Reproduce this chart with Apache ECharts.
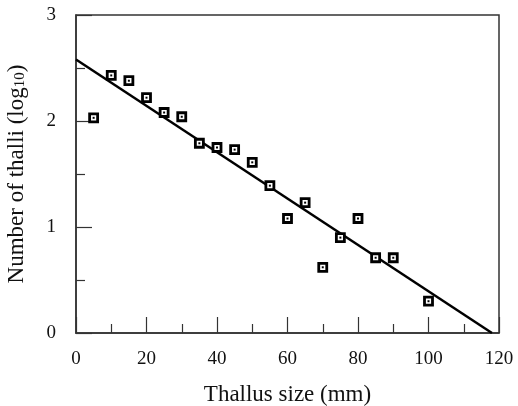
<!DOCTYPE html>
<html>
<head>
<meta charset="utf-8">
<script src="https://cdn.jsdelivr.net/npm/echarts@6/dist/echarts.min.js"></script>
<style>
  html, body { margin: 0; padding: 0; background: #fff; }
  #chart { width: 518px; height: 406px; }
</style>
</head>
<body>
<div id="chart"></div>
<script>
// thallus size (mm) and number of thalli (log10)
var sizes = [5, 10, 15, 20, 25, 30, 35, 40, 45, 50, 55, 60, 65, 70, 75, 80, 85, 90, 100];
var counts = [2.03, 2.43, 2.38, 2.22, 2.08, 2.04, 1.79, 1.75, 1.73, 1.61, 1.39, 1.08, 1.23, 0.62, 0.90, 1.08, 0.71, 0.71, 0.30];
// fitted regression line end points
var fitX = [0, 118];
var fitY = [2.58, 0];

var myChart = echarts.init(document.getElementById("chart"));
var points = sizes.map(function (x, i) { return [x, counts[i]]; });
var fitLine = fitX.map(function (x, i) { return [x, fitY[i]]; });
var font = "'Liberation Serif', 'DejaVu Serif', serif";
var axisColor = "#333";

var option = {
  animation: false,
  grid: {
    left: 76, right: 19, top: 15, bottom: 73,
    outerBoundsMode: "none", containLabel: false,
    show: true, borderColor: axisColor, borderWidth: 1.5, backgroundColor: "transparent"
  },
  xAxis: {
    type: "value", min: 0, max: 120, interval: 20,
    name: "Thallus size (mm)", nameLocation: "middle", nameGap: 50,
    nameTextStyle: { fontFamily: font, fontSize: 23, color: "#111" },
    axisLine: { lineStyle: { color: axisColor, width: 1.5 } },
    axisTick: { inside: true, length: 16, lineStyle: { color: axisColor, width: 1.2 } },
    minorTick: { show: true, splitNumber: 2, length: 9, lineStyle: { color: axisColor, width: 1.2 } },
    axisLabel: { fontFamily: font, fontSize: 19, color: "#111", margin: 17 },
    splitLine: { show: false }
  },
  yAxis: {
    type: "value", min: 0, max: 3, interval: 1,
    name: "Number of thalli (log{sub|10})", nameLocation: "middle", nameGap: 48,
    nameTextStyle: {
      fontFamily: font, fontSize: 23, color: "#111",
      rich: { sub: { fontFamily: font, fontSize: 15, color: "#111", verticalAlign: "bottom", padding: [8, 0, 0, 0] } }
    },
    axisLine: { lineStyle: { color: axisColor, width: 1.5 } },
    axisTick: { inside: true, length: 16, lineStyle: { color: axisColor, width: 1.2 } },
    minorTick: { show: true, splitNumber: 2, length: 9, lineStyle: { color: axisColor, width: 1.2 } },
    axisLabel: { fontFamily: font, fontSize: 19, color: "#111", margin: 20 },
    splitLine: { show: false }
  },
  series: [
    {
      type: "line", data: fitLine, symbol: "none", z: 2,
      lineStyle: { color: "#000", width: 2.5 }
    },
    {
      type: "scatter", data: points, symbol: "rect", symbolSize: 8, z: 3,
      itemStyle: { color: "#fff", borderColor: "#000", borderWidth: 2.8, opacity: 1 }
    },
    {
      type: "scatter", data: points, symbol: "rect", symbolSize: 2, z: 4,
      itemStyle: { color: "#000", opacity: 1 }
    }
  ]
};

myChart.setOption(option);
window.addEventListener("resize", function () {
  myChart.resize();
});
</script>
</body>
</html>
